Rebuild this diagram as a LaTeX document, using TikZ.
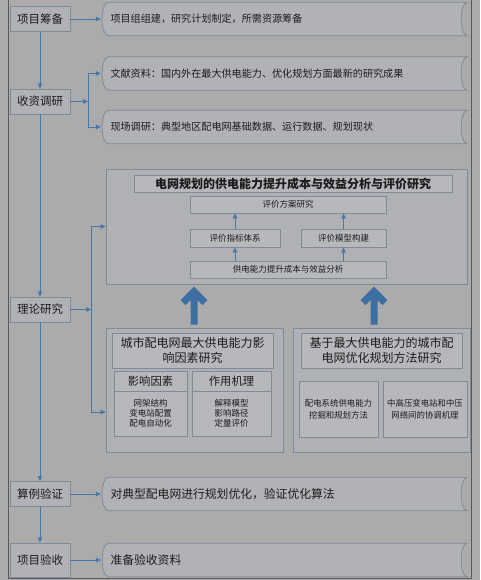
\documentclass[tikz,border=0pt]{standalone}
\usepackage{fontspec}
\setmainfont{Noto Sans CJK SC}
\usetikzlibrary{arrows.meta,backgrounds}
\definecolor{bg}{HTML}{ABABAB}
\definecolor{paper}{HTML}{B0B2B5}
\definecolor{panelfill}{HTML}{AFB1B5}
\definecolor{edge}{HTML}{7F8B97}
\definecolor{flow}{HTML}{4677A8}
\definecolor{lift}{HTML}{3D6FA2}
\definecolor{ink}{HTML}{1C1C1C}
\begin{document}
\begin{tikzpicture}[x=1pt,y=-1pt,>={Triangle[length=5pt,width=4.5pt]},
text=ink,
stage/.style={draw=edge,fill=paper,line width=.8pt,minimum width=60pt,minimum height=25pt,inner sep=0pt,font=\fontsize{11.5}{13}\selectfont},
tape/.style={minimum width=358pt,minimum height=33pt,text width=355pt,inner xsep=1.5pt,align=left,font=\fontsize{10.1}{12}\selectfont},
tapeline/.style={draw=edge,fill=paper,line width=.8pt},
panel/.style={draw=edge,fill=panelfill,line width=.8pt,inner sep=0pt},
ibox/.style={draw=edge,fill=paper!92!white,line width=.8pt,inner sep=0pt,align=center,font=\fontsize{8.5}{10}\selectfont},
arr/.style={->,draw=flow,line width=.7pt},
bigarr/.style={draw=lift,line width=7pt,line join=miter}]
\useasboundingbox (0,0) rectangle (480,580);
\begin{scope}[on background layer]
\fill[bg] (0,0) rectangle (480,580);
\end{scope}
\draw[draw=black!65,line width=1pt] (8,-3) rectangle (471,578.5);
% stages on the left
\node[stage] (s1) at (40,19) {项目筹备};
\node[stage] (s2) at (40,101.5) {收资调研};
\node[stage] (s3) at (40,309.5) {理论研究};
\node[stage] (s4) at (40,494) {算例验证};
\node[stage,minimum height=34pt] (s5) at (40,560) {项目验收};
\draw[arr] (s1)--(s2);\draw[arr] (s2)--(s3);\draw[arr] (s3)--(s4);\draw[arr] (s4)--(s5);
% tapes on the right
\node[tape] (t1) at (288,19) {项目组组建，研究计划制定，所需资源筹备};
\node[tape] (t2) at (288,73.5) {文献资料：国内外在最大供电能力、优化规划方面最新的研究成果};
\node[tape] (t3) at (288,127) {现场调研：典型地区配电网基础数据、运行数据、规划现状};
\node[tape,font=\fontsize{11.8}{13}\selectfont] (t4) at (288,494) {对典型配电网进行规划优化，验证优化算法};
\node[tape,font=\fontsize{11.8}{13}\selectfont] (t5) at (288,560) {准备验收资料};
\begin{scope}[on background layer]
\foreach \t in {t1,t2,t3,t4,t5}
  \filldraw[tapeline] (\t.north west) -- (\t.north east)
    .. controls ([xshift=-8pt]\t.north east) and ([xshift=-8pt]\t.south east) .. (\t.south east)
    -- (\t.south west)
    .. controls ([xshift=-9pt]\t.south west) and ([xshift=-9pt]\t.north west) .. (\t.north west) -- cycle;
\end{scope}
\draw[arr] (s1.east) -- ([xshift=-8pt]t1.west);
\draw[arr] (s4.east) -- ([xshift=-8pt]t4.west);
\draw[arr] (s5.east) -- ([xshift=-8pt]t5.west);
\coordinate (j1) at (88,101.5);
\draw[arr] (s2.east) -- (j1);
\draw[arr] (j1) |- ([xshift=-8pt]t2.west);
\draw[arr] (j1) |- ([xshift=-8pt]t3.west);
% evaluation panel
\node[panel,minimum width=361pt,minimum height=115pt] (top) at (286.5,226.5) {};
\node[ibox,minimum width=318pt,minimum height=17pt,font=\bfseries\fontsize{12}{14}\selectfont] (tt) at (293,183.5) {电网规划的供电能力提升成本与效益分析与评价研究};
\node[ibox,minimum width=196pt,minimum height=17pt] (fa) at (288,204.5) {评价方案研究};
\node[ibox,minimum width=90pt,minimum height=18pt] (zb) at (235,238) {评价指标体系};
\node[ibox,minimum width=85pt,minimum height=18pt] (mx) at (343.5,238) {评价模型构建};
\node[ibox,minimum width=196pt,minimum height=17pt] (fx) at (288,269.5) {供电能力提升成本与效益分析};
\draw[arr] (fx.north -| zb.south) -- (zb.south);
\draw[arr] (zb.north) -- (fa.south -| zb.north);
\draw[arr] (fx.north -| mx.south) -- (mx.south);
\draw[arr] (mx.north) -- (fa.south -| mx.north);
% lower left panel
\node[panel,minimum width=177pt,minimum height=124pt] (lowL) at (194.5,390) {};
\node[ibox,minimum width=161pt,minimum height=35pt,font=\fontsize{12}{15}\selectfont] (lt) at (192.5,350.5) {城市配电网最大供电能力影\\响因素研究};
\node[ibox,minimum width=73pt,minimum height=20pt,font=\fontsize{11.3}{13}\selectfont] (h1) at (150.5,381) {影响因素};
\node[ibox,minimum width=73pt,minimum height=45pt] (b1) at (150.5,413.5) {网架结构\\变电站配置\\配电自动化};
\node[ibox,minimum width=79pt,minimum height=20pt,font=\fontsize{11.3}{13}\selectfont] (h2) at (231.5,381) {作用机理};
\node[ibox,minimum width=79pt,minimum height=45pt] (b2) at (231.5,413.5) {解释模型\\影响路径\\定量评价};
% lower right panel
\node[panel,minimum width=177pt,minimum height=124pt] (lowR) at (381.5,390) {};
\node[ibox,minimum width=161pt,minimum height=35pt,font=\fontsize{12}{15}\selectfont] (rt) at (381.5,350.5) {基于最大供电能力的城市配\\电网优化规划方法研究};
\node[ibox,minimum width=79pt,minimum height=56pt,font=\fontsize{8.4}{12}\selectfont] (r1) at (338.5,409) {配电系统供电能力\\挖掘和规划方法};
\node[ibox,minimum width=84pt,minimum height=56pt,font=\fontsize{8.4}{12}\selectfont] (r2) at (425,409) {中高压变电站和中压\\网络间的协调机理};
% links of the theory stage
\coordinate (j2) at (91,309.5);
\draw[arr] (s3.east) -- (j2);
\draw[arr] (j2) |- (top.west);
\draw[arr] (j2) |- ([yshift=-22pt]lowL.west);
\draw[bigarr] ([xshift=-.5pt,yshift=3pt]lowL.north) -- ++(0,-33) ++(-11,11) -- ++(11,-11) -- ++(11,11);
\draw[bigarr] ([xshift=-7.5pt,yshift=3pt]lowR.north) -- ++(0,-33) ++(-11,11) -- ++(11,-11) -- ++(11,11);
\end{tikzpicture}
\end{document}
